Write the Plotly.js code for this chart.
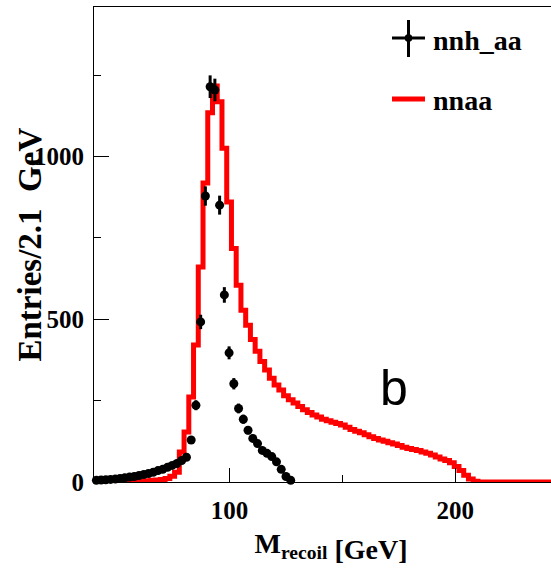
<!DOCTYPE html>
<html>
<head>
<meta charset="utf-8">
<script src="https://cdn.plot.ly/plotly-3.0.1.min.js"></script>
<style>
html, body { margin:0; padding:0; overflow:hidden; background:#fff; }
#chart { width:568px; height:568px; }
</style>
</head>
<body>
<div id="chart"></div>
<script>
// Binning of the histograms (GeV)
const binLo = 40;
const binW = 2.1;

// nnaa background histogram: entries per 2.1 GeV bin, starting at 40 GeV
const nnaaCounts = [
  0, 0, 0, 1, 1, 1, 1, 2, 2, 3,
  3, 4, 5, 6, 8, 11, 18, 30, 92, 154,
  261, 421, 661, 919, 1135, 1217, 1169, 1026, 861, 718,
  605, 528, 482, 438, 402, 370, 344, 319, 298, 283,
  265, 253, 243, 232, 222, 214, 206, 200, 193, 188,
  184, 180, 175, 168, 161, 156, 151, 145, 139, 134,
  129, 125, 121, 117, 112, 107, 103, 100, 97, 92,
  88, 83, 77, 71, 66, 59, 48, 35, 21, 9,
  2, 0, 0, 0, 0, 0, 0, 0, 0, 0,
  0, 0, 0, 0, 0, 0, 0, 0, 0, 0
];

// nnh_aa signal: entries per 2.1 GeV bin, starting at 40 GeV
const nnhCounts = [
  5, 6, 7, 8, 9, 11, 13, 15, 17, 20,
  23, 26, 30, 35, 39, 45, 51, 57, 66, 76,
  129, 236, 492, 879, 1215, 1205, 851, 575, 397, 302,
  226, 193, 159, 134, 118, 97, 88, 78, 62, 39,
  17, 5
];

// Axis tick values / labels
const xTickVals = [100, 200];
const xTickText = ['100', '200'];
const yTickVals = [0, 500, 1000];
const yTickText = ['0', '500', '1000'];

const nnaaX = nnaaCounts.map((_, i) => binLo + binW * (i + 0.5));
const nnhX = nnhCounts.map((_, i) => binLo + binW * (i + 0.5));

const serif = 'Liberation Serif, Times New Roman, serif';

const traces = [
  {
    type: 'scatter', mode: 'lines', name: 'nnaa',
    x: nnaaX, y: nnaaCounts,
    line: { shape: 'hvh', color: '#ff0000', width: 5 },
    showlegend: false, hoverinfo: 'x+y'
  },
  {
    type: 'scatter', mode: 'markers', name: 'nnh_aa',
    x: nnhX, y: nnhCounts,
    marker: { color: '#000', size: 9, symbol: 'circle' },
    error_y: { type: 'sqrt', color: '#000', thickness: 3, width: 0 },
    error_x: { type: 'constant', value: binW / 2, color: '#000', thickness: 3, width: 0 },
    cliponaxis: false,
    showlegend: false, hoverinfo: 'x+y'
  }
];

const layout = {
  width: 568, height: 568,
  margin: { l: 94, r: 0, t: 7, b: 86 },
  paper_bgcolor: '#fff', plot_bgcolor: '#fff',
  font: { family: serif, color: '#000' },
  showlegend: false,
  xaxis: {
    range: [40, 250], showgrid: false, zeroline: false,
    showline: true, linecolor: '#000', linewidth: 1, mirror: true,
    ticks: 'inside', ticklen: 14, tickwidth: 1, tickcolor: '#000',
    tickvals: xTickVals, ticktext: xTickText,
    tickfont: { family: serif, size: 25, weight: 'bold', color: '#000' },
    ticklabelstandoff: 6,
    minor: { dtick: 50, tick0: 0, ticks: 'inside', ticklen: 7, tickwidth: 1, tickcolor: '#000', showgrid: false },
    title: { text: 'M<sub>recoil</sub> [GeV]', font: { family: serif, size: 28, weight: 'bold', color: '#000' }, standoff: 10 }
  },
  yaxis: {
    range: [0, 1460], showgrid: false, zeroline: false,
    showline: true, linecolor: '#000', linewidth: 1, mirror: true,
    ticks: 'inside', ticklen: 15, tickwidth: 1, tickcolor: '#000',
    tickvals: yTickVals, ticktext: yTickText,
    tickfont: { family: serif, size: 25, weight: 'bold', color: '#000' },
    ticklabelstandoff: 4,
    minor: { dtick: 250, tick0: 0, ticks: 'inside', ticklen: 7, tickwidth: 1, tickcolor: '#000', showgrid: false }
  },
  shapes: [
    // legend symbol: nnh_aa (marker with error cross)
    { type: 'line', xref: 'paper', yref: 'paper', x0: 0.6287, x1: 0.6983, y0: 0.9347, y1: 0.9347, line: { color: '#000', width: 3 } },
    { type: 'line', xref: 'paper', yref: 'paper', x0: 0.6635, x1: 0.6635, y0: 0.8947, y1: 0.9726, line: { color: '#000', width: 3 } },
    { type: 'circle', xref: 'paper', yref: 'paper', x0: 0.6635 - 0.0074, x1: 0.6635 + 0.0074, y0: 0.9347 - 0.0074, y1: 0.9347 + 0.0074, fillcolor: '#000', line: { color: '#000', width: 1 } },
    // legend symbol: nnaa (red line)
    { type: 'line', xref: 'paper', yref: 'paper', x0: 0.6287, x1: 0.6983, y0: 0.8063, y1: 0.8063, line: { color: '#ff0000', width: 5 } }
  ],
  annotations: [
    { text: 'Entries/2.1  GeV', xref: 'paper', yref: 'paper', x: -0.1371, y: 0.5, xanchor: 'center', yanchor: 'middle', textangle: -90, showarrow: false, font: { family: serif, size: 33, weight: 'bold', color: '#000' } },
    { text: 'nnh_aa', xref: 'paper', yref: 'paper', x: 0.7110, y: 0.9305, xanchor: 'left', yanchor: 'middle', showarrow: false, font: { family: serif, size: 28, weight: 'bold', color: '#000' } },
    { text: 'nnaa', xref: 'paper', yref: 'paper', x: 0.7110, y: 0.8042, xanchor: 'left', yanchor: 'middle', showarrow: false, font: { family: serif, size: 28, weight: 'bold', color: '#000' } },
    { text: 'b', xref: 'x', yref: 'y', x: 172.9, y: 290, xanchor: 'center', yanchor: 'middle', showarrow: false, font: { family: 'Liberation Sans, Arial, sans-serif', size: 50, color: '#000' } }
  ]
};

function isBlank(s) {
  return !s || !s.replace(/[\s\u200b\u200c\u200d\ufeff]/g, '').length;
}

Plotly.newPlot('chart', traces, layout, { displayModeBar: false, staticPlot: true }).then(function (gd) {
  // drop empty placeholder nodes (unused titles, zero-width baseline resets)
  gd.querySelectorAll('tspan').forEach(function (t) {
    if (isBlank(t.textContent) && t.parentNode) t.parentNode.removeChild(t);
  });
  gd.querySelectorAll('text').forEach(function (t) {
    if (isBlank(t.textContent) && t.parentNode) t.parentNode.removeChild(t);
  });
  // remove Plotly's off-screen text measuring helper
  var tester = document.getElementById('js-plotly-tester');
  if (tester && tester.parentNode) tester.parentNode.removeChild(tester);
});
</script>
</body>
</html>
